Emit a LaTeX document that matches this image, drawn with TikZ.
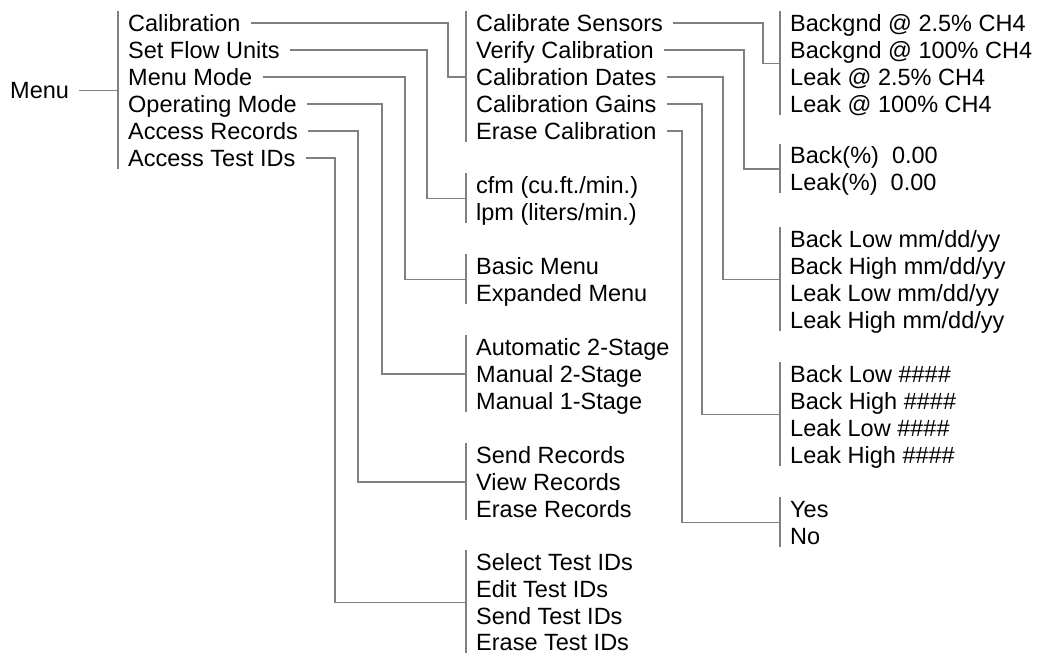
\documentclass[tikz,border=0pt]{standalone}
\usepackage{fontspec}
\setmainfont{Liberation Sans}
\usetikzlibrary{calc}

\tikzset{
  item/.style={anchor=west, inner xsep=10pt, inner ysep=2pt, text height=16.8pt, text depth=0pt, font=\fontsize{23.5}{27}\selectfont},
  link/.style={draw=black!50, line width=1.3pt},
}

\begin{document}
\begin{tikzpicture}[x=1pt, y=-1pt]
\useasboundingbox (0,0) rectangle (1040,654);

% top level
\node[item] (menu) at (0,90.5) {Menu};

% level 1
\node[item] (cal) at (118,23) {Calibration};
\node[item] (flow) at (118,50) {Set Flow Units};
\node[item] (mode) at (118,77) {Menu Mode};
\node[item] (opmode) at (118,104) {Operating Mode};
\node[item] (rec) at (118,131) {Access Records};
\node[item] (ids) at (118,158) {Access Test IDs};

% level 2
\node[item] (cs) at (466,23) {Calibrate Sensors};
\node[item] (vc) at (466,50) {Verify Calibration};
\node[item] (cd) at (466,77) {Calibration Dates};
\node[item] (cg) at (466,104) {Calibration Gains};
\node[item] (ec) at (466,131) {Erase Calibration};

\node[item] (cfm) at (466,185) {cfm (cu.ft./min.)};
\node[item] (lpm) at (466,212) {lpm (liters/min.)};

\node[item] (basic) at (466,266) {Basic Menu};
\node[item] (expanded) at (466,293) {Expanded Menu};

\node[item] (auto2) at (466,347) {Automatic 2-Stage};
\node[item] (man2) at (466,374) {Manual 2-Stage};
\node[item] (man1) at (466,401) {Manual 1-Stage};

\node[item] (sendrec) at (466,455) {Send Records};
\node[item] (viewrec) at (466,482) {View Records};
\node[item] (eraserec) at (466,509) {Erase Records};

\node[item] (selid) at (466,562) {Select Test IDs};
\node[item] (editid) at (466,589) {Edit Test IDs};
\node[item] (sendid) at (466,616) {Send Test IDs};
\node[item] (eraseid) at (466,642.5) {Erase Test IDs};

% level 3
\node[item] (bg25) at (780,23) {Backgnd @ 2.5\% CH4};
\node[item] (bg100) at (780,50) {Backgnd @ 100\% CH4};
\node[item] (lk25) at (780,77) {Leak @ 2.5\% CH4};
\node[item] (lk100) at (780,104) {Leak @ 100\% CH4};

\node[item] (backpct) at (780,155.5) {Back(\%)\ \ 0.00};
\node[item] (leakpct) at (780,182.5) {Leak(\%)\ \ 0.00};

\node[item] (bldate) at (780,239) {Back Low mm/dd/yy};
\node[item] (bhdate) at (780,266) {Back High mm/dd/yy};
\node[item] (lldate) at (780,293) {Leak Low mm/dd/yy};
\node[item] (lhdate) at (780,320) {Leak High mm/dd/yy};

\node[item] (blgain) at (780,374) {Back Low \#\#\#\#};
\node[item] (bhgain) at (780,401) {Back High \#\#\#\#};
\node[item] (llgain) at (780,428) {Leak Low \#\#\#\#};
\node[item] (lhgain) at (780,455) {Leak High \#\#\#\#};

\node[item] (yes) at (780,509) {Yes};
\node[item] (no) at (780,536) {No};

% brackets
\draw[link] ([yshift=1pt]cal.north west) -- (ids.south west);
\draw[link] ([yshift=1pt]cs.north west) -- (ec.south west);
\draw[link] ([yshift=1pt]cfm.north west) -- (lpm.south west);
\draw[link] ([yshift=1pt]basic.north west) -- (expanded.south west);
\draw[link] ([yshift=1pt]auto2.north west) -- (man1.south west);
\draw[link] ([yshift=1pt]sendrec.north west) -- (eraserec.south west);
\draw[link] ([yshift=1pt]selid.north west) -- (eraseid.south west);
\draw[link] ([yshift=1pt]bg25.north west) -- (lk100.south west);
\draw[link] ([yshift=1pt]backpct.north west) -- (leakpct.south west);
\draw[link] ([yshift=1pt]bldate.north west) -- (lhdate.south west);
\draw[link] ([yshift=1pt]blgain.north west) -- (lhgain.south west);
\draw[link] ([yshift=1pt]yes.north west) -- (no.south west);

% junctions
\coordinate (j-menu) at ($(cal.west)!.5!(ids.west)$);
\coordinate (j-cal) at ($(cs.west)!.5!(ec.west)$);
\coordinate (j-flow) at ($(cfm.west)!.5!(lpm.west)$);
\coordinate (j-mode) at ($(basic.west)!.5!(expanded.west)$);
\coordinate (j-op) at ($(auto2.west)!.5!(man1.west)$);
\coordinate (j-rec) at ($(sendrec.west)!.5!(eraserec.west)$);
\coordinate (j-ids) at ($(selid.west)!.5!(eraseid.west)$);
\coordinate (j-bg) at ($(bg25.west)!.5!(lk100.west)$);
\coordinate (j-pct) at ($(backpct.west)!.5!(leakpct.west)$);
\coordinate (j-date) at ($(bldate.west)!.5!(lhdate.west)$);
\coordinate (j-gain) at ($(blgain.west)!.5!(lhgain.west)$);
\coordinate (j-yn) at ($(yes.west)!.5!(no.west)$);

% connectors
\draw[link] (menu.east) -- (j-menu);

\draw[link] (cal.east) -| ([xshift=-18pt]j-cal) -- (j-cal);
\draw[link] (flow.east) -| ([xshift=-39pt]j-flow) -- (j-flow);
\draw[link] (mode.east) -| ([xshift=-61pt]j-mode) -- (j-mode);
\draw[link] (opmode.east) -| ([xshift=-84pt]j-op) -- (j-op);
\draw[link] (rec.east) -| ([xshift=-108pt]j-rec) -- (j-rec);
\draw[link] (ids.east) -| ([xshift=-131pt]j-ids) -- (j-ids);

\draw[link] (cs.east) -| ([xshift=-17pt]j-bg) -- (j-bg);
\draw[link] (vc.east) -| ([xshift=-36pt]j-pct) -- (j-pct);
\draw[link] (cd.east) -| ([xshift=-57pt]j-date) -- (j-date);
\draw[link] (cg.east) -| ([xshift=-78pt]j-gain) -- (j-gain);
\draw[link] (ec.east) -| ([xshift=-98pt]j-yn) -- (j-yn);
\end{tikzpicture}
\end{document}
